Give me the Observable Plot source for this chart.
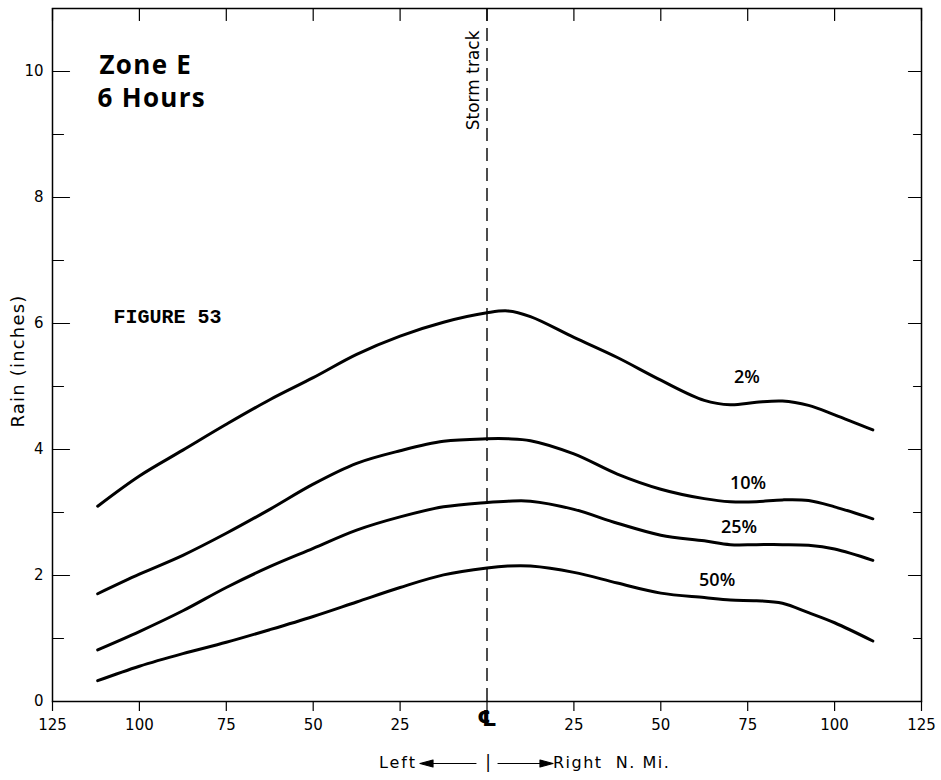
<!DOCTYPE html>
<html><head><meta charset="utf-8">
<script src="https://cdn.jsdelivr.net/npm/d3@7"></script>
<script src="https://cdn.jsdelivr.net/npm/@observablehq/plot@0.6"></script>
<style>
body{margin:0;background:#fff;}
</style>
</head><body><div id="chart"></div>
<script>
// Distance from storm track (nautical miles; negative = left)
const distance = [-112, -100, -87.5, -75, -62.5, -50, -37.5, -25, -12.5, 0, 6, 12.5, 25, 37.5, 50, 62.5, 70, 77.5, 85, 92.5, 100, 111];
// Rain (inches) for each exceedance percentage
const rain2  = [3.10, 3.58, 3.99, 4.40, 4.79, 5.14, 5.51, 5.80, 6.02, 6.17, 6.20, 6.11, 5.78, 5.46, 5.10, 4.78, 4.71, 4.75, 4.77, 4.70, 4.55, 4.31];
const rain10 = [1.71, 2.02, 2.32, 2.67, 3.05, 3.45, 3.78, 3.98, 4.13, 4.17, 4.17, 4.14, 3.93, 3.61, 3.37, 3.22, 3.17, 3.17, 3.20, 3.19, 3.09, 2.90];
const rain25 = [0.82, 1.11, 1.44, 1.81, 2.14, 2.43, 2.72, 2.93, 3.09, 3.16, 3.18, 3.18, 3.05, 2.83, 2.64, 2.55, 2.49, 2.49, 2.49, 2.48, 2.42, 2.24];
const rain50 = [0.33, 0.56, 0.76, 0.94, 1.14, 1.35, 1.58, 1.81, 2.01, 2.12, 2.15, 2.15, 2.05, 1.88, 1.72, 1.65, 1.61, 1.60, 1.56, 1.41, 1.25, 0.96];
const seriesNames = ["2%", "10%", "25%", "50%"];
// Curve label anchors (distance, rain)
const labelDistance = [74.8, 75.1, 72.5, 66.2];
const labelRain = [5.14, 3.46, 2.76, 1.92];
// Axis ticks
const xTicks = [-125, -100, -75, -50, -25, 0, 25, 50, 75, 100, 125];
const yLabelTicks = [0, 2, 4, 6, 8, 10];
const yMajor = [2, 4, 6, 8, 10];
const yMinor = [1, 3, 5, 7, 9];
const titleLines = ["Zone E", "6 Hours"];
const figureNote = "FIGURE 53";
const trackLabel = "Storm track";
const yTitle = "Rain (inches)";
const leftNote = "Left";
const rightNote = "Right\u00a0\u00a0N.\u00a0Mi.";

const allSeries = [rain2, rain10, rain25, rain50];
const rows = [];
seriesNames.forEach((s, k) => distance.forEach((x, i) => rows.push({series: s, x, rain: allSeries[k][i]})));
const labels = seriesNames.map((s, k) => ({text: s, x: labelDistance[k], y: labelRain[k]}));

const tickShape = dir => ({
  r: 1,
  draw(ctx, l) {
    ctx.moveTo(0, 0);
    if (dir === "right") ctx.lineTo(l, 0);
    else if (dir === "left") ctx.lineTo(-l, 0);
    else ctx.lineTo(0, l);
  }
});
const arrowShape = {
  r: 3.5,
  draw(ctx, l) {
    ctx.moveTo(0, 0);
    ctx.lineTo(0, -l);
    ctx.moveTo(-3.5, -l + 13);
    ctx.lineTo(0, -l);
    ctx.lineTo(3.5, -l + 13);
    ctx.closePath();
  }
};

const chart = Plot.plot({
  width: 941,
  height: 780,
  marginLeft: 52,
  marginRight: 20,
  marginTop: 8,
  marginBottom: 79,
  style: {fontFamily: "DejaVu Sans", fontSize: "15px", background: "white", color: "black"},
  x: {domain: [-125, 125]},
  y: {domain: [0, 11]},
  marks: [
    Plot.axisX({ticks: xTicks, tickSize: 10, tickPadding: 8, tickFormat: d => d === 0 ? "" : String(Math.abs(d)), fontSize: 15, label: null, strokeWidth: 1.2}),
    Plot.axisY({ticks: yLabelTicks, tickSize: 0, tickPadding: 9, fontSize: 15, label: null}),
    // inward ticks
    Plot.vector(xTicks, {x: d => d, frameAnchor: "top", length: 12, anchor: "start", shape: tickShape("down"), strokeWidth: 1.2}),
    Plot.vector(yMajor, {y: d => d, frameAnchor: "left", length: 17, anchor: "start", shape: tickShape("right"), strokeWidth: 1.2}),
    Plot.vector(yMinor, {y: d => d, frameAnchor: "left", length: 11, anchor: "start", shape: tickShape("right"), strokeWidth: 1.2}),
    Plot.vector(yMajor, {y: d => d, frameAnchor: "right", length: 13, anchor: "start", shape: tickShape("left"), strokeWidth: 1.2}),
    Plot.vector(yMinor, {y: d => d, frameAnchor: "right", length: 8, anchor: "start", shape: tickShape("left"), strokeWidth: 1.2}),
    Plot.frame({strokeWidth: 1.5}),
    Plot.ruleX([0], {strokeDasharray: "13,7", strokeWidth: 1.4}),
    Plot.line(rows, {x: "x", y: "rain", z: "series", curve: "catmull-rom", strokeWidth: 3, stroke: "black"}),
    Plot.text(labels, {x: "x", y: "y", text: "text", fontFamily: "Open Sans", fontWeight: 600, fontSize: 18}),
    // titles and notes
    Plot.text([titleLines[0]], {text: d => d, frameAnchor: "top-left", dx: 47, dy: 65, lineAnchor: "bottom", textAnchor: "start", fontFamily: "Open Sans", fontWeight: 700, fontSize: 26}),
    Plot.text([titleLines[1]], {text: d => d, frameAnchor: "top-left", dx: 45, dy: 98, lineAnchor: "bottom", textAnchor: "start", fontFamily: "Open Sans", fontWeight: 700, fontSize: 26}),
    Plot.text([figureNote], {text: d => d, frameAnchor: "top-left", dx: 61, dy: 314, lineAnchor: "bottom", textAnchor: "start", fontFamily: "Liberation Mono", fontWeight: "bold", fontSize: 20}),
    Plot.text([trackLabel], {text: d => d, x: () => 0, frameAnchor: "top", dx: -13, dy: 22, rotate: -90, textAnchor: "end", lineAnchor: "middle", fontSize: 17}),
    Plot.text([yTitle], {text: d => d, frameAnchor: "left", dx: -34, dy: 6, rotate: -90, textAnchor: "middle", lineAnchor: "middle", fontSize: 18}),
    // centre-line symbol under the storm track
    Plot.text(["\u2104"], {text: d => d, x: () => 0, frameAnchor: "bottom", dy: 9, lineAnchor: "top", textAnchor: "middle", fontSize: 22, fontWeight: "bold"}),
    // bottom direction note
    Plot.text([leftNote], {text: d => d, frameAnchor: "bottom", dx: -70, dy: 61, textAnchor: "end", lineAnchor: "middle", fontSize: 16}),
    Plot.text([rightNote], {text: d => d, frameAnchor: "bottom", dx: 66, dy: 61, textAnchor: "start", lineAnchor: "middle", fontSize: 16}),
    Plot.text(["|"], {text: d => d, frameAnchor: "bottom", dx: 1, dy: 61, textAnchor: "middle", lineAnchor: "middle", fontSize: 17}),
    Plot.vector([1], {frameAnchor: "bottom", dx: -11, dy: 62, length: 56, rotate: -90, anchor: "start", shape: arrowShape, fill: "black", stroke: "black", strokeWidth: 1.2}),
    Plot.vector([1], {frameAnchor: "bottom", dx: 11, dy: 62, length: 55, rotate: 90, anchor: "start", shape: arrowShape, fill: "black", stroke: "black", strokeWidth: 1.2})
  ]
});
// letter spacing for a few typeset labels
const spacing = new Map([[leftNote, "2px"], [rightNote, "1.5px"], [yTitle, "1.2px"], [titleLines[0], "1.3px"], [titleLines[1], "1.3px"]]);
d3.select(chart).selectAll("text").each(function() {
  const s = spacing.get(this.textContent);
  if (s) this.style.letterSpacing = s;
});
document.getElementById("chart").appendChild(chart);
</script>
</body></html>
